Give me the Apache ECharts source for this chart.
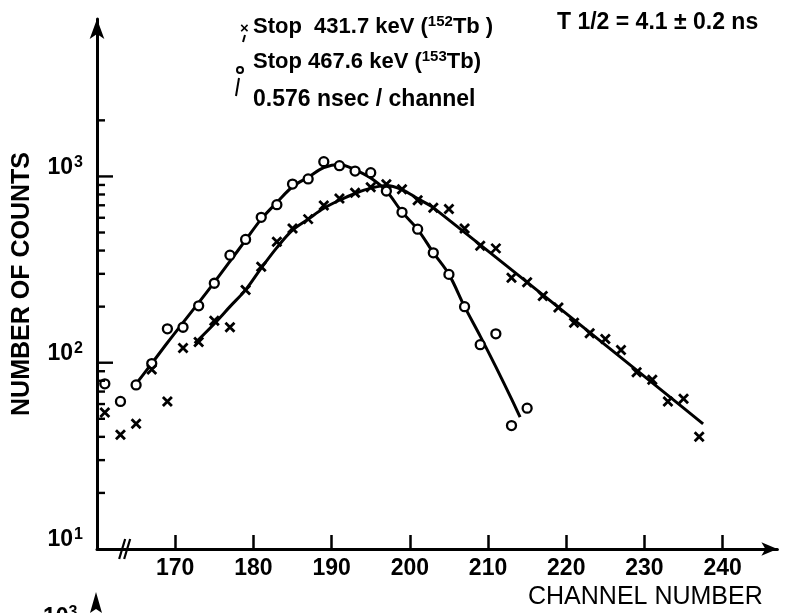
<!DOCTYPE html>
<html><head><meta charset="utf-8">
<script src="https://cdn.jsdelivr.net/npm/echarts@6/dist/echarts.min.js"></script>
<style>html,body{margin:0;padding:0;background:#fff}#c{width:785px;height:613px}</style>
</head><body><div id="c"></div>
<script>
// ---- axis definitions ----
const xMin = 160, xMax = 247;
const yMin = 10, yMax = 7000;
const xTickValues = [170, 180, 190, 200, 210, 220, 230, 240];
const yLabelValues = [10, 100, 1000];
const yMajorTicks = [100, 1000];
const yMinorTicks = [20, 30, 40, 50, 60, 70, 80, 90, 200, 300, 400, 500, 600, 700, 800, 900, 2000];
const axisBreakChannel = [163.6];

// ---- data: Stop 467.6 keV (153Tb), circles ----
const tb153Channels = [161, 163, 165, 167, 169, 171, 173, 175, 177, 179, 181, 183, 185, 187, 189, 191, 193, 195, 197, 199, 201, 203, 205, 207, 209, 211, 213, 215];
const tb153Counts   = [77, 62, 76, 99, 152, 155, 202, 267, 378, 459, 603, 705, 910, 970, 1200, 1142, 1069, 1047, 835, 642, 521, 389, 298, 200, 125, 143, 46, 57];

// ---- data: Stop 431.7 keV (152Tb), crosses ----
const tb152Channels = [161, 163, 165, 167, 169, 171, 173, 175, 177, 179, 181, 183, 185, 187, 189, 191, 193, 195, 197, 199, 201, 203, 205, 207, 209, 211, 213, 215, 217, 219, 221, 223, 225, 227, 229, 231, 233, 235, 237];
const tb152Counts   = [54, 41, 47, 92, 62, 120, 129, 168, 155, 246, 327, 446, 526, 590, 698, 762, 817, 874, 909, 854, 744, 679, 668, 526, 425, 411, 286, 270, 228, 198, 164, 144, 134, 117, 89, 81, 62, 64, 40];

// ---- fitted curves drawn by hand in the figure ----
const fit153Channels = [164.9, 167, 169, 171, 173, 175, 177, 179, 181, 183, 185, 187, 189, 191, 193, 195, 197, 199, 201, 203, 205, 207, 209, 211, 213, 214.1];
const fit153Counts   = [76, 99, 128, 164, 210, 270, 350, 455, 590, 725, 880, 990, 1115, 1160, 1085, 980, 835, 645, 520, 390, 298, 200, 139, 95, 64, 51];
const fit152Channels = [172.5, 175, 177, 179, 181, 183, 185, 187, 189, 191, 193, 195, 197, 199, 201, 203, 237.5];
const fit152Counts   = [127, 162, 200, 246, 322, 415, 515, 590, 675, 745, 810, 865, 895, 850, 760, 680, 47];

const zip = (a, b) => a.map((v, i) => [v, b[i]]);
const FONT = "'Liberation Sans', Arial, sans-serif";

const chart = echarts.init(document.getElementById('c'), null, {renderer: 'canvas'});
const majorSet = new Set(yMajorTicks);
const supRich = (fs) => ({fontSize: fs, fontFamily: FONT, fontWeight: 'bold', verticalAlign: 'top', padding: [0, 0, 10, 0], fill: '#000', color: '#000'});

const option = {
  animation: false,
  backgroundColor: '#fff',
  grid: {left: 97, right: 7.6, top: 19, bottom: 64},
  xAxis: {
    type: 'value', min: xMin, max: xMax, interval: 10,
    axisLine: {lineStyle: {color: '#000', width: 3}, symbol: ['none', 'arrow'], symbolSize: [10, 16]},
    axisTick: {inside: true, length: 14, lineStyle: {color: '#000', width: 2.5}, customValues: xTickValues},
    axisLabel: {customValues: xTickValues, color: '#000', fontSize: 23, fontWeight: 'bold', fontFamily: FONT, margin: 8},
    splitLine: {show: false}
  },
  yAxis: {
    type: 'log', logBase: 10, min: yMin, max: yMax,
    axisLine: {show: true, lineStyle: {color: '#000', width: 3}, symbol: ['none', 'arrow'], symbolSize: [11, 20]},
    axisTick: {show: false},
    axisLabel: {
      customValues: yLabelValues,
      formatter: v => '{b|10}{s|' + Math.round(Math.log10(v)) + '}',
      margin: 14, verticalAlign: 'middle', padding: [0, 0, 18, 0], color: '#000',
      rich: {
        b: {fontSize: 23, fontWeight: 'bold', fontFamily: FONT, color: '#000'},
        s: {fontSize: 16, fontWeight: 'bold', fontFamily: FONT, color: '#000', verticalAlign: 'top', padding: [0, 0, 10, 1]}
      }
    },
    splitLine: {show: false},
    name: 'NUMBER OF COUNTS', nameLocation: 'middle', nameGap: 62, nameRotate: 90,
    nameTextStyle: {fontSize: 25, fontWeight: 'bold', fontFamily: FONT, color: '#000'}
  },
  series: [
    {type: 'line', data: zip(fit153Channels, fit153Counts), showSymbol: false, smooth: 0.35,
     lineStyle: {color: '#000', width: 3}, silent: true, z: 2},
    {type: 'line', data: zip(fit152Channels, fit152Counts), showSymbol: false, smooth: 0.35,
     lineStyle: {color: '#000', width: 3}, silent: true, z: 2},
    {type: 'scatter', data: zip(tb153Channels, tb153Counts), symbol: 'circle', symbolSize: 9,
     itemStyle: {color: '#fff', borderColor: '#000', borderWidth: 2.3, opacity: 1}, z: 3},
    {type: 'scatter', data: zip(tb152Channels, tb152Counts), symbol: 'path://M0,0L10,10M10,0L0,10', symbolSize: 9,
     itemStyle: {color: 'transparent', borderColor: '#000', borderWidth: 2.8, opacity: 1}, z: 3},
    {type: 'custom', clip: false, silent: true, z: 4,
     data: yMinorTicks.concat(yMajorTicks).map(v => [xMin, v]),
     encode: {x: 0, y: 1},
     renderItem: (params, api) => {
       const v = api.value(1);
       const p = api.coord([api.value(0), v]);
       const len = majorSet.has(v) ? 16 : 8;
       return {type: 'line', shape: {x1: p[0], y1: p[1], x2: p[0] + len, y2: p[1]},
               style: {stroke: '#000', lineWidth: 2.4}};
     }},
    {type: 'custom', clip: false, silent: true, z: 4,
     data: axisBreakChannel.map(c => [c, yMin]),
     encode: {x: 0, y: 1},
     renderItem: (params, api) => {
       const p = api.coord([api.value(0), api.value(1)]);
       return {type: 'group', children: [
         {type: 'line', shape: {x1: p[0] - 6, y1: p[1] + 10, x2: p[0], y2: p[1] - 10}, style: {stroke: '#000', lineWidth: 2.2}},
         {type: 'line', shape: {x1: p[0] - 1, y1: p[1] + 10, x2: p[0] + 5, y2: p[1] - 10}, style: {stroke: '#000', lineWidth: 2.2}}
       ]};
     }}
  ],
  graphic: [
    {type: 'text', left: 253, top: 14, style: {
      text: 'Stop  431.7 keV ({u|152}Tb )', fill: '#000', font: 'bold 22px ' + FONT,
      rich: {u: supRich(15)}}},
    {type: 'text', left: 253, top: 49, style: {
      text: 'Stop 467.6 keV ({u|153}Tb)', fill: '#000', font: 'bold 22px ' + FONT,
      rich: {u: supRich(15)}}},
    {type: 'text', left: 253, top: 88, style: {
      text: '0.576 nsec / channel', fill: '#000', font: 'bold 23px ' + FONT}},
    {type: 'text', left: 557, top: 11, style: {
      text: 'T 1/2 = 4.1 ± 0.2 ns', fill: '#000', font: 'bold 23px ' + FONT}},
    {type: 'text', left: 240, top: 21, style: {text: '×', fill: '#000', font: 'bold 15px ' + FONT}},
    {type: 'line', shape: {x1: 245, y1: 35, x2: 243, y2: 42}, style: {stroke: '#000', lineWidth: 2}},
    {type: 'circle', shape: {cx: 240, cy: 70, r: 3}, style: {fill: 'none', stroke: '#000', lineWidth: 2}},
    {type: 'line', shape: {x1: 239, y1: 78, x2: 236, y2: 96}, style: {stroke: '#000', lineWidth: 2}},
    {type: 'text', left: 528, top: 585, style: {text: 'CHANNEL NUMBER', fill: '#000', font: '25px ' + FONT}},
    {type: 'text', left: 43, top: 605, style: {
      text: '10{u|3}', fill: '#000', font: 'bold 23px ' + FONT,
      rich: {u: supRich(16)}}},
    {type: 'polygon', shape: {points: [[96, 592], [90, 613], [96, 609], [102, 613]]}, style: {fill: '#000'}}
  ]
};
chart.setOption(option);
</script>
</body></html>
